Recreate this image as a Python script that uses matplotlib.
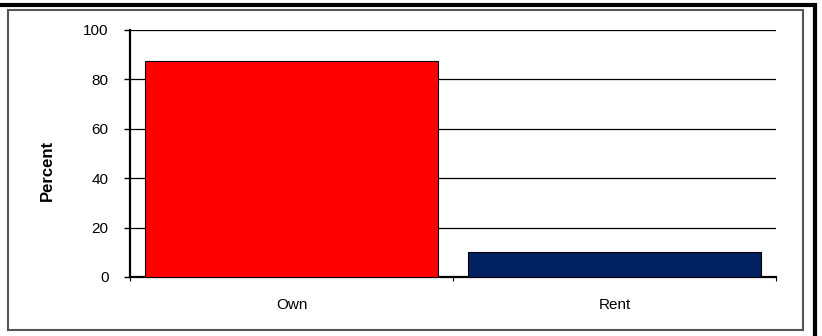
import matplotlib
matplotlib.use("Agg")
import matplotlib.pyplot as plt
from matplotlib.patches import Rectangle

# data
tenure = ["Own", "Rent"]
percent = [87.4, 10.1]
bar_colors = ["#FF0000", "#002060"]
y_ticks = [0, 20, 40, 60, 80, 100]

plt.rcParams["font.family"] = ["Liberation Sans", "DejaVu Sans"]

fig = plt.figure(figsize=(8.22, 3.36), dpi=100)
ax = fig.add_axes([130 / 822, 1 - 277 / 336, 646 / 822, 247 / 336])

x = range(len(tenure))
ax.bar(x, percent, width=0.907, color=bar_colors, edgecolor="black", linewidth=0.8, zorder=3)

ax.set_xlim(-0.5, len(tenure) - 0.5)
ax.set_ylim(0, 100)
ax.set_yticks(y_ticks)
ax.yaxis.grid(True, color="black", linewidth=0.9, zorder=0)
ax.set_axisbelow(True)

ax.set_xticks(list(x))
ax.set_xticklabels(tenure, fontsize=11)
ax.set_xticks([-0.5, 0.5, 1.5], minor=True)
ax.tick_params(axis="x", which="major", length=0, pad=15)
ax.tick_params(axis="x", which="minor", length=3, width=0.8, direction="out")
ax.tick_params(axis="y", length=4.5, width=1, pad=11, labelsize=11)

for s in ["top", "right"]:
    ax.spines[s].set_visible(False)
ax.spines["left"].set_linewidth(1.6)
ax.spines["bottom"].set_linewidth(1.6)

ax.set_ylabel("Percent", fontsize=12, fontweight="bold")
ax.yaxis.set_label_coords(-0.116, 0.43)

# frames around the chart (pixel coords)
fig.patches.append(Rectangle((8, 6), 795, 320, transform=None, fill=False,
                             edgecolor="#555555", linewidth=1.5))
fig.patches.append(Rectangle((-20, -20), 835, 351, transform=None, fill=False,
                             edgecolor="black", linewidth=3))

fig.savefig("out.png", dpi=100)
